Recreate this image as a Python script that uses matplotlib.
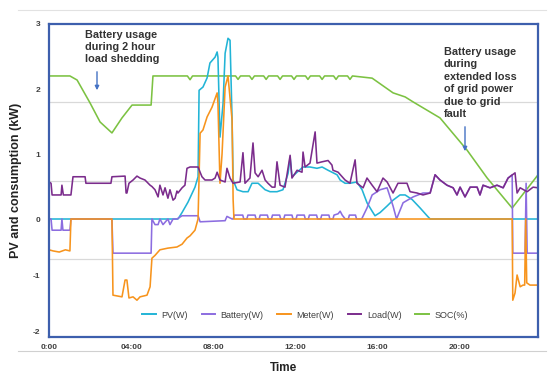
import numpy as np
import matplotlib
matplotlib.use("Agg")
import matplotlib.pyplot as plt
from matplotlib.lines import Line2D

plt.rcParams['font.family'] = ['Liberation Sans', 'DejaVu Sans']

# ---------------- data (hours, kW / %) ----------------
pv_t = [0, 6.29, 6.49, 6.78, 7.12, 7.27, 7.32, 7.51, 7.71, 7.85, 8.1, 8.2, 8.24, 8.34,
        8.49, 8.59, 8.73, 8.83, 8.93, 8.98, 9.17, 9.46, 9.71, 9.9, 10.2, 10.54, 10.78,
        11.12, 11.41, 11.66, 11.76, 11.85, 12.1, 12.39, 12.73, 13.07, 13.32, 13.61,
        13.8, 14.05, 14.2, 14.44, 14.68, 15.02, 15.27, 15.51, 15.76, 15.9, 16.15,
        16.49, 16.78, 17.12, 17.37, 17.71, 18.1, 18.44, 18.59, 23.85]
pv_v = [0, 0, 0.1, 0.26, 0.49, 0.65, 1.98, 2.03, 2.17, 2.4, 2.49, 2.57, 2.49, 1.26,
        1.78, 2.55, 2.78, 2.75, 1.52, 0.6, 0.45, 0.42, 0.42, 0.55, 0.55, 0.45, 0.42,
        0.42, 0.45, 0.7, 0.95, 0.65, 0.72, 0.8, 0.8, 0.78, 0.8, 0.75,
        0.72, 0.68, 0.6, 0.55, 0.55, 0.57, 0.45, 0.25, 0.12, 0.05, 0.1,
        0.2, 0.29, 0.37, 0.37, 0.3, 0.17, 0.05, 0, 0]

bat_t = [0, 0.1, 0.15, 0.59, 0.63, 0.68, 1.02, 1.07, 3.07, 3.12, 4.98, 5.02, 5.17,
         5.32, 5.41, 5.56, 5.8, 5.9, 6.05, 6.24, 6.49, 7.27, 7.37, 8.59, 8.68, 8.93,
         8.98, 9.05, 9.45, 9.5, 9.65, 9.7, 10.05, 10.1, 10.25, 10.3, 10.65, 10.7,
         10.85, 10.9, 11.25, 11.3, 11.45, 11.5, 11.85, 11.9, 12.05, 12.1, 12.45, 12.5,
         12.65, 12.7, 13.05, 13.1, 13.25, 13.3, 13.65, 13.7, 13.85, 13.9, 14.1, 14.2,
         14.3, 14.45, 14.6, 14.65, 14.95, 15.0, 15.25, 15.51, 15.76, 16.15, 16.49,
         16.78, 16.95, 17.27, 17.76, 18.24, 18.59, 18.83, 19.07, 19.41, 19.71, 19.9,
         20.05, 20.29, 20.54, 20.88, 21.02, 21.17, 21.51, 21.85, 22.15, 22.39, 22.59,
         22.62, 23.22, 23.27, 23.32, 23.85]
bat_v = [0, 0, -0.2, -0.2, 0, -0.2, -0.2, 0, 0, -0.61, -0.61, 0, -0.1,
         -0.1, 0, -0.1, 0, -0.1, 0, 0, 0.05, 0.05, -0.05, -0.03, 0.04, 0,
         0, 0.06, 0.06, 0, 0, 0.06, 0.06, 0, 0, 0.06, 0.06, 0,
         0, 0.06, 0.06, 0, 0, 0.06, 0.06, 0, 0, 0.06, 0.06, 0,
         0, 0.06, 0.06, 0, 0, 0.06, 0.06, 0, 0, 0.06, 0.08, 0.12,
         0.06, 0, 0, 0.06, 0.06, 0, 0, 0.17, 0.37, 0.45, 0.48,
         0.2, 0, 0.25, 0.34, 0.4, 0.4, 0.68, 0.6, 0.52, 0.48, 0.37,
         0.49, 0.34, 0.49, 0.49, 0.37, 0.52, 0.48, 0.52, 0.48, 0.63, 0.68,
         -0.61, -0.61, 0.55, -0.61, -0.61]

meter_t = [0, 0.2, 0.5, 0.8, 1.02, 1.07, 3.07, 3.12, 3.56, 3.71, 3.8, 3.9, 4.1, 4.29,
           4.44, 4.78, 4.93, 5.02, 5.17, 5.41, 5.8, 6.24, 6.49, 6.73, 6.88, 7.12, 7.27,
           7.37, 7.51, 7.71, 7.95, 8.2, 8.24, 8.34, 8.44, 8.59, 8.73, 8.93, 8.98, 9.02,
           22.59, 22.62, 22.73, 22.83, 22.98, 23.12, 23.2, 23.25, 23.3, 23.46, 23.85]
meter_v = [-0.55, -0.57, -0.59, -0.55, -0.57, 0, 0, -1.36, -1.39, -1.09, -1.09, -1.41,
           -1.39, -1.45, -1.39, -1.36, -1.21, -0.7, -0.65, -0.55, -0.52, -0.5, -0.45,
           -0.34, -0.3, -0.2, 0, 1.32, 1.37, 1.57, 1.72, 1.94, 1.78, 0.55, 1.0, 2.03,
           2.2, 1.52, 0.3, 0, 0, -1.45, -1.32, -1.0, -1.21, -1.18, -1.18, 0, -1.14,
           -1.18, -1.18]

load_t = [0, 0.1, 0.15, 0.59, 0.63, 0.7, 1.07, 1.17, 1.76, 1.8, 3.02, 3.07, 3.71,
          3.76, 3.8, 3.9, 4.1, 4.29, 4.44, 4.68, 4.93, 5.02, 5.17, 5.32, 5.41, 5.56,
          5.66, 5.8, 5.9, 6.05, 6.15, 6.24, 6.29, 6.49, 6.63, 6.73, 6.88, 7.27, 7.37,
          7.46, 7.61, 7.95, 8.1, 8.2, 8.34, 8.59, 8.68, 8.83, 8.98, 9.32, 9.46, 9.56,
          9.8, 9.95, 10.05, 10.2, 10.39, 10.54, 10.68, 10.88, 11.02, 11.12, 11.27,
          11.51, 11.76, 11.85, 12.1, 12.34, 12.39, 12.49, 12.73, 12.98, 13.07, 13.32,
          13.61, 13.8, 13.85, 14.1, 14.44, 14.68, 14.93, 15.02, 15.32, 15.51, 15.76,
          16.0, 16.29, 16.49, 16.78, 17.02, 17.46, 17.61, 17.95, 18.24, 18.59, 18.83,
          19.07, 19.41, 19.71, 19.9, 20.05, 20.29, 20.54, 20.88, 21.02, 21.17, 21.51,
          21.85, 22.15, 22.39, 22.73, 22.83, 22.98, 23.32, 23.61, 23.85]
load_v = [0.57, 0.55, 0.37, 0.37, 0.52, 0.37, 0.37, 0.65, 0.65, 0.55, 0.55, 0.65, 0.66,
          0.4, 0.4, 0.55, 0.6, 0.66, 0.63, 0.6, 0.52, 0.5, 0.45, 0.34, 0.52, 0.37,
          0.48, 0.32, 0.45, 0.29, 0.32, 0.43, 0.4, 0.48, 0.52, 0.78, 0.8, 0.8, 0.72,
          0.65, 0.6, 0.6, 0.63, 0.72, 0.6, 0.57, 0.78, 0.63, 0.55, 0.57, 1.02, 0.55,
          0.63, 1.17, 0.71, 0.65, 0.75, 0.6, 0.55, 0.49, 0.49, 0.88, 0.52,
          0.49, 0.98, 0.63, 0.75, 0.72, 1.03, 0.8, 0.86, 1.34, 0.86, 0.88,
          0.9, 0.83, 0.75, 0.72, 0.6, 0.55, 0.91, 0.55, 0.48, 0.63, 0.52,
          0.42, 0.63, 0.57, 0.4, 0.55, 0.55, 0.42, 0.4, 0.37, 0.4, 0.68,
          0.6, 0.52, 0.48, 0.37, 0.49, 0.34, 0.49, 0.49, 0.37, 0.52, 0.48,
          0.52, 0.48, 0.63, 0.71, 0.4, 0.48, 0.42, 0.49, 0.48]

soc_t = [0, 1.02, 1.37, 2.0, 2.49, 3.07, 3.56, 4.05, 4.98, 5.07, 6.75, 6.88, 7.0,
         9.1, 9.22, 9.34, 9.78, 9.9, 10.02, 10.47, 10.59, 10.71, 11.15, 11.27, 11.39,
         11.83, 11.95, 12.07, 12.51, 12.63, 12.75, 13.2, 13.32, 13.44, 13.88, 14.0,
         14.12, 14.56, 14.68, 14.8, 15.76, 16.78, 17.37, 17.76, 19.07, 20.39, 21.37,
         22.59, 23.85]
soc_v = [83.4, 83.4, 82.1, 74.8, 68.7, 65.2, 70.0, 74.1, 74.1, 83.4, 83.4, 82.2, 83.4,
         83.4, 82.3, 83.4, 83.4, 82.3, 83.4, 83.4, 82.3, 83.4, 83.4, 82.3, 83.4,
         83.4, 82.3, 83.4, 83.4, 82.3, 83.4, 83.4, 82.3, 83.4, 83.4, 82.3,
         83.4, 83.4, 82.3, 83.4, 82.7, 78.0, 76.7, 75.1, 70.0, 59.7, 50.8,
         41.2, 51.8]

x_ticks = [0, 4, 8, 12, 16, 20]
x_ticklabels = ["0:00", "04:00", "08:00", "12:00", "16:00", "20:00"]
y_ticks = [-2, -1, 0, 1, 2, 3]
series_names = ["PV(W)", "Battery(W)", "Meter(W)", "Load(W)", "SOC(%)"]

# ---------------- styling ----------------
c_pv, c_bat, c_met, c_load, c_soc = "#22B4D6", "#8C6DE0", "#F7941D", "#7B2C8C", "#7CC242"
spine_c = "#3D5FAD"
W, H = 548, 374

fig = plt.figure(figsize=(W / 100, H / 100), dpi=100)
fig.patch.set_facecolor("white")
ax2 = fig.add_axes([49 / W, 1 - 337 / H, (538 - 49) / W, (337 - 24) / H])
ax = fig.add_axes([49 / W, 1 - 337 / H, (538 - 49) / W, (337 - 24) / H], sharex=ax2)
ax.set_zorder(ax2.get_zorder() + 1)
ax.patch.set_visible(False)

# secondary (SOC) axis: 0-100, grid only
ax2.set_ylim(0, 100)
ax2.set_yticks([25, 50, 75])
ax2.yaxis.grid(True, color="#d9d9d9", lw=0.9)
ax2.tick_params(left=False, right=False, labelleft=False, labelright=False,
                bottom=False, labelbottom=False)
for s in ax2.spines.values():
    s.set_visible(False)
ax2.plot(soc_t, soc_v, color=c_soc, lw=1.15)

# primary axis with compressed negative part
k = 56 / 65
fwd = lambda v: np.where(np.asarray(v) >= 0, v, np.asarray(v) * k)
inv = lambda t: np.where(np.asarray(t) >= 0, t, np.asarray(t) / k)
ax.set_yscale("function", functions=(fwd, inv))

ax.plot(pv_t, pv_v, color=c_pv, lw=1.15)
ax.plot(bat_t, bat_v, color=c_bat, lw=1.15)
ax.plot(meter_t, meter_v, color=c_met, lw=1.15)
ax.plot(load_t, load_v, color=c_load, lw=1.15)

ax.set_xlim(0, 23.85)
ax.set_ylim(-2.107, 3.0)
ax.set_yticks(y_ticks)
ax.set_yticklabels([str(v) for v in y_ticks])
ax.set_xticks(x_ticks)
ax.set_xticklabels(x_ticklabels)
ax.yaxis.set_minor_locator(matplotlib.ticker.NullLocator())
ax.tick_params(axis="both", length=0, labelsize=6, colors="#404040")
ax.tick_params(axis="y", pad=6)
ax.tick_params(axis="x", pad=5)
for lab in ax.get_xticklabels() + ax.get_yticklabels():
    lab.set_fontweight("bold")
for s in ax.spines.values():
    s.set_color(spine_c)
    s.set_linewidth(1.6)

ax.set_ylabel("PV and consumption (kW)", fontsize=9, fontweight="bold",
              color="#222222", labelpad=8)
fig.text(284 / W, 1 - 368 / H, "Time", fontsize=8.5, fontweight="bold",
         color="#222222", ha="center", va="center")

# outer light frame lines
fig.add_artist(Line2D([18 / W, 546 / W], [1 - 10 / H, 1 - 10 / H], color="#e2e2e2", lw=0.8))
fig.add_artist(Line2D([18 / W, 546 / W], [1 - 351 / H, 1 - 351 / H], color="#d0d0d0", lw=0.8))

# legend
handles = [Line2D([], [], color=c, lw=1.4) for c in (c_pv, c_bat, c_met, c_load, c_soc)]
leg = ax.legend(handles, series_names, loc="center", ncol=5, frameon=False,
                fontsize=6.5, handlelength=1.5, columnspacing=1.55, handletextpad=0.6,
                bbox_to_anchor=(305 / W, 1 - 315 / H), bbox_transform=fig.transFigure)
for t in leg.get_texts():
    t.set_color("#404040")

# annotations
fig.text(85 / W, 1 - 30 / H, "Battery usage\nduring 2 hour\nload shedding",
         fontsize=7.8, fontweight="bold", color="#333333", va="top", ha="left",
         linespacing=1.25)
fig.text(444 / W, 1 - 47 / H,
         "Battery usage\nduring\nextended loss\nof grid power\ndue to grid\nfault",
         fontsize=7.8, fontweight="bold", color="#333333", va="top", ha="left",
         linespacing=1.3)
arrow_kw = dict(arrowstyle="-|>", color="#4472C4", lw=1.0, mutation_scale=6)
ax.annotate("", xy=(97 / W, 1 - 93 / H), xytext=(97 / W, 1 - 69 / H),
            xycoords="figure fraction", textcoords="figure fraction", arrowprops=arrow_kw)
ax.annotate("", xy=(465 / W, 1 - 154 / H), xytext=(465 / W, 1 - 124 / H),
            xycoords="figure fraction", textcoords="figure fraction", arrowprops=arrow_kw)

fig.savefig("out.png", dpi=100)
